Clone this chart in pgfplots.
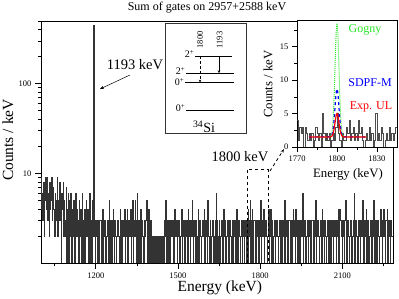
\documentclass[border=0pt]{standalone}
\usepackage{pgfplots}
\pgfplotsset{compat=1.18}
\usepackage{pgfplotstable}
\usepackage{fontspec}
\setmainfont{Liberation Serif}
\usetikzlibrary{arrows.meta}

\definecolor{ggreen}{RGB}{40,230,40}

% main spectrum, 2 keV bins starting at 1000 keV
\pgfplotstableread[header=false,row sep=\\]{
9\\4\\6\\3\\8\\2\\5\\7\\9\\4\\
5\\9\\3\\6\\2\\8\\4\\5\\7\\9\\
3\\4\\7\\4\\2\\6\\3\\5\\3\\9\\
2\\5\\3\\4\\8\\3\\1\\6\\4\\5\\
8\\2\\5\\3\\2\\7\\1\\4\\3\\6\\
1\\5\\2\\3\\6\\1\\4\\2\\3\\5\\
3\\1\\2\\6\\2\\4\\2\\3\\1\\5\\
2\\3\\4\\2\\1\\6\\3\\1\\2\\4\\
1\\3\\5\\2\\2\\4\\1\\3\\6\\1\\
3\\2\\1\\5\\2\\4\\
450\\
2\\1\\3\\2\\3\\2\\1\\3\\1\\2\\
3\\3\\2\\1\\2\\4\\1\\2\\3\\3\\
2\\1\\2\\3\\3\\2\\1\\5\\1\\2\\
3\\1\\2\\3\\4\\2\\1\\3\\2\\2\\
1\\2\\3\\3\\2\\1\\2\\4\\1\\3\\
2\\1\\3\\2\\2\\4\\1\\2\\3\\3\\
4\\1\\3\\2\\3\\2\\4\\1\\3\\2\\
5\\1\\2\\3\\5\\2\\3\\1\\6\\2\\
1\\3\\2\\1\\4\\1\\2\\3\\2\\2\\
1\\2\\3\\2\\3\\5\\1\\4\\2\\1\\
4\\2\\1\\3\\1\\2\\2\\1\\2\\1\\
2\\1\\2\\1\\2\\1\\2\\2\\1\\2\\
1\\2\\2\\1\\2\\1\\2\\1\\3\\2\\
5\\1\\2\\1\\3\\1\\2\\3\\1\\2\\
3\\2\\3\\3\\2\\1\\4\\3\\2\\3\\
3\\1\\2\\3\\2\\3\\1\\2\\3\\4\\
1\\2\\3\\3\\2\\1\\3\\2\\3\\2\\
1\\4\\2\\3\\3\\1\\2\\3\\5\\2\\
1\\3\\3\\2\\1\\3\\2\\1\\2\\4\\
1\\2\\3\\3\\2\\1\\2\\3\\3\\2\\
4\\1\\2\\3\\3\\2\\1\\5\\3\\2\\
1\\3\\2\\1\\2\\3\\3\\1\\2\\1\\
2\\3\\6\\1\\3\\2\\1\\2\\3\\1\\
2\\3\\3\\1\\2\\1\\4\\2\\3\\3\\
1\\2\\3\\3\\2\\1\\2\\3\\3\\2\\
1\\2\\3\\1\\2\\3\\2\\3\\1\\2\\
4\\1\\2\\3\\3\\2\\1\\2\\3\\3\\
1\\2\\3\\1\\2\\3\\2\\1\\3\\2\\
1\\4\\2\\3\\5\\1\\3\\2\\4\\1\\
2\\3\\3\\1\\2\\1\\3\\2\\3\\2\\
1\\3\\2\\5\\1\\2\\3\\3\\2\\4\\
1\\2\\3\\3\\2\\1\\2\\3\\4\\1\\
2\\3\\4\\1\\3\\2\\1\\2\\3\\3\\
1\\2\\3\\3\\2\\1\\2\\3\\3\\1\\
2\\3\\1\\2\\3\\2\\1\\5\\1\\2\\
3\\3\\2\\1\\2\\3\\3\\2\\1\\2\\
3\\1\\2\\4\\3\\2\\1\\4\\2\\3\\
2\\1\\3\\3\\2\\1\\3\\2\\3\\2\\
6\\1\\2\\3\\3\\2\\1\\2\\3\\3\\
1\\2\\3\\3\\2\\1\\2\\3\\3\\2\\
1\\3\\2\\3\\5\\1\\2\\3\\3\\2\\
1\\2\\3\\3\\2\\1\\4\\3\\2\\1\\
3\\3\\2\\1\\2\\3\\3\\2\\1\\3\\
2\\1\\2\\3\\3\\2\\1\\3\\2\\3\\
2\\1\\3\\3\\2\\4\\1\\2\\4\\3\\
2\\3\\1\\2\\3\\2\\1\\3\\3\\5\\
1\\2\\3\\3\\2\\1\\2\\3\\3\\2\\
1\\2\\3\\2\\6\\1\\2\\3\\3\\2\\
1\\3\\2\\3\\2\\1\\3\\2\\3\\2\\
5\\1\\2\\3\\3\\2\\4\\1\\2\\3\\
3\\1\\2\\3\\2\\3\\1\\2\\3\\2\\
5\\1\\2\\3\\3\\1\\2\\3\\3\\2\\
1\\2\\4\\3\\2\\1\\3\\2\\4\\3\\
2\\1\\3\\3\\4\\1\\2\\3\\3\\2\\
1\\3\\3\\2\\2\\2\\
}\mainspec

% inset spectrum, 1 keV bins starting at 1770 keV
\pgfplotstableread[header=false,row sep=\\]{
4\\1\\3\\2\\3\\0\\3\\2\\1\\2\\
1\\2\\0\\1\\3\\2\\1\\2\\0\\5\\
2\\1\\2\\1\\2\\0\\1\\2\\1\\3\\
5\\2\\1\\0\\2\\1\\1\\3\\2\\4\\
1\\2\\3\\1\\2\\1\\4\\2\\3\\1\\
0\\1\\2\\1\\3\\1\\2\\0\\1\\5\\
1\\2\\1\\3\\2\\0\\1\\2\\1\\3\\
1\\2\\1\\2\\3\\1\\1\\
}\insetspec

\begin{document}
\begin{tikzpicture}[x=1bp,y=1bp]
\useasboundingbox (0,0) rectangle (399bp,299bp);

\begin{axis}[
  at={(41bp,36bp)}, anchor=south west,
  scale only axis, width=352bp, height=242bp,
  ymode=log,
  xmin=1000, xmax=2285, ymin=1, ymax=500,
  xtick={1200,1500,1800,2100},
  xticklabels={1200,1500,1800,2100},
  minor xtick={1050,1350,1650,1950,2250},
  ytick={10,100}, yticklabels={10,100},
  minor ytick={2,3,4,5,6,7,8,9,20,30,40,50,60,70,80,90,200,300,400,500},
  tick pos=left, tick align=outside,
  major tick length=6bp, minor tick length=3.5bp,
  tick style={black, line width=0.6bp},
  axis line style={line width=0.9bp},
  ticklabel style={font=\fontsize{8.5bp}{10bp}\selectfont},
  /pgf/number format/assume math mode=true,
  xlabel={Energy (keV)},
  xlabel style={at={(axis description cs:0.508,-0.103)}, anchor=center, font=\fontsize{15.5bp}{18bp}\selectfont},
  ylabel={Counts / keV},
  ylabel style={at={(axis description cs:-0.094,0.508)}, anchor=center, font=\fontsize{15.5bp}{18bp}\selectfont},
]
\addplot[const plot, black!80, line width=0.3bp] table[x expr=1000+2*\coordindex, y index=0] {\mainspec};
\draw[dashed, line width=0.9bp] (axis cs:1752,1) -- (axis cs:1752,11) -- (axis cs:1829,11) -- (axis cs:1829,1);
\end{axis}

% title
\node[font=\fontsize{12bp}{14bp}\selectfont] at (207bp,291bp) {Sum of gates on 2957+2588 keV};

% annotations
\node[font=\fontsize{14.5bp}{17bp}\selectfont] at (135bp,234bp) {1193 keV};
\draw[-{Stealth[length=4bp,width=3bp]}, line width=0.5bp] (130bp,224bp) -- (100bp,210bp);
\node[font=\fontsize{14.5bp}{17bp}\selectfont] at (240bp,142bp) {1800 keV};
\draw[dashed, -{Stealth[length=4bp,width=3bp]}, line width=0.8bp] (270bp,128bp) -- (284bp,150bp);

% level scheme
\draw[fill=white, draw=black!80, line width=0.6bp] (165bp,166bp) rectangle (246bp,276bp);
\begin{scope}[line width=0.6bp, font=\fontsize{10bp}{12bp}\selectfont]
\draw (195bp,243bp) -- (232bp,243bp);
\node[anchor=east, inner sep=0.5bp] at (195bp,245bp) {2\textsuperscript{+}};
\draw (186bp,225.7bp) -- (234bp,225.7bp);
\node[anchor=east, inner sep=0.5bp] at (186bp,228bp) {2\textsuperscript{+}};
\draw (185bp,216.3bp) -- (234bp,216.3bp);
\node[anchor=east, inner sep=0.5bp] at (185bp,217bp) {0\textsuperscript{+}};
\draw (186bp,189bp) -- (234bp,189bp);
\node[anchor=east, inner sep=0.5bp] at (186bp,191bp) {0\textsuperscript{+}};
\draw[densely dashed, -{Stealth[length=3bp,width=2.5bp]}] (200bp,243bp) -- (200bp,216.3bp);
\draw[-{Stealth[length=3bp,width=2.5bp]}] (219bp,243bp) -- (219bp,225.7bp);
\node[rotate=90, font=\fontsize{8.5bp}{10bp}\selectfont] at (200bp,259bp) {1800};
\node[rotate=90, font=\fontsize{8.5bp}{10bp}\selectfont] at (219.5bp,259bp) {1193};
\node[font=\fontsize{14bp}{16bp}\selectfont] at (204bp,172bp) {\textsuperscript{34}Si};
\end{scope}

% inset
\begin{axis}[
  at={(297bp,152bp)}, anchor=south west,
  scale only axis, width=100bp, height=127bp,
  xmin=1770, xmax=1845, ymin=0, ymax=19,
  xtick={1770,1800,1830}, xticklabels={1770,1800,1830},
  minor xtick={1785,1815},
  ytick={0,5,10,15}, yticklabels={0,5,10,15},
  minor ytick={2.5,7.5,12.5,17.5},
  tick pos=left, tick align=outside,
  major tick length=5bp, minor tick length=3bp,
  tick style={black, line width=0.6bp},
  axis line style={line width=0.9bp},
  axis background/.style={fill=white},
  ticklabel style={font=\fontsize{8.5bp}{10bp}\selectfont},
  /pgf/number format/assume math mode=true,
  xlabel={Energy (keV)},
  xlabel style={at={(axis description cs:0.51,-0.22)}, anchor=center, font=\fontsize{12.8bp}{15bp}\selectfont},
  ylabel={Counts / keV},
  ylabel style={at={(axis description cs:-0.29,0.496)}, anchor=center, font=\fontsize{12.8bp}{15bp}\selectfont},
]
\addplot[const plot, black!70, line width=0.8bp] table[x expr=1770+\coordindex, y index=0] {\insetspec};
\addplot[ggreen, densely dotted, line width=1bp] coordinates {
(1779,1.5) (1795,1.5) (1796,1.99) (1796.5,2.62) (1797,3.80) (1797.5,5.73) (1798,8.49) (1798.5,11.82) (1799,15.12) (1799.5,17.58) (1800,18.5)
(1800.5,17.58) (1801,15.12) (1801.5,11.82) (1802,8.49) (1802.5,5.73) (1803,3.80) (1803.5,2.62) (1804,1.99) (1805,1.5) (1822,1.5)};
\addplot[blue, dashed, line width=1.2bp] coordinates {
(1779,1.5) (1795,1.53) (1796,1.71) (1796.5,1.97) (1797,2.47) (1797.5,3.29) (1798,4.46) (1798.5,5.87) (1799,7.27) (1799.5,8.31) (1800,8.7)
(1800.5,8.31) (1801,7.27) (1801.5,5.87) (1802,4.46) (1802.5,3.29) (1803,2.47) (1803.5,1.97) (1804,1.71) (1805,1.53) (1822,1.5)};
\addplot[red, line width=1.2bp] coordinates {
(1779,1.5) (1795,1.51) (1796,1.60) (1796.5,1.73) (1797,1.97) (1797.5,2.37) (1798,2.94) (1798.5,3.62) (1799,4.30) (1799.5,4.81) (1800,5.0)
(1800.5,4.81) (1801,4.30) (1801.5,3.62) (1802,2.94) (1802.5,2.37) (1803,1.97) (1803.5,1.73) (1804,1.60) (1805,1.51) (1822,1.5)};
\end{axis}

\node[text=ggreen, font=\fontsize{12bp}{14bp}\selectfont] at (365bp,269bp) {Gogny};
\node[text=blue, font=\fontsize{12bp}{14bp}\selectfont] at (370bp,216bp) {SDPF-M};
\node[text=red, font=\fontsize{12bp}{14bp}\selectfont] at (371bp,192bp) {Exp. UL};
\end{tikzpicture}
\end{document}
